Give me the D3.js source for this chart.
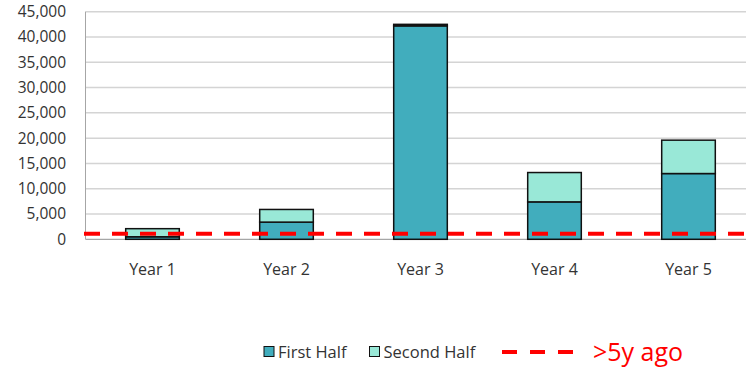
<!DOCTYPE html>
<html>
<head>
<meta charset="utf-8">
<script src="https://cdn.jsdelivr.net/npm/d3@7"></script>
<style>
  html, body { margin: 0; padding: 0; background: #fff; }
  svg { display: block; font-family: "Open Sans", sans-serif; }
</style>
</head>
<body>
<svg id="chart" width="746" height="368"></svg>
<script>
const categories = ["Year 1", "Year 2", "Year 3", "Year 4", "Year 5"];
const firstHalf = [500, 3400, 42200, 7400, 13000];
const secondHalf = [1600, 2500, 300, 5800, 6600];
const thresholdValue = 1100;
const yTicks = [0, 5000, 10000, 15000, 20000, 25000, 30000, 35000, 40000, 45000];
const seriesNames = ["First Half", "Second Half"];
const thresholdLabel = ">5y ago";
const colors = ["#41adbd", "#99e8d7"];

const svg = d3.select("#chart");
const plotLeft = 85.5, plotRight = 755.5, plotTop = 11.7, plotBottom = 239.3;

const x = d3.scaleBand().domain(categories).range([plotLeft, plotRight]).paddingInner(0.6).paddingOuter(0.3);
const y = d3.scaleLinear().domain([0, 45000]).range([plotBottom, plotTop]);

// gridlines
svg.append("g").selectAll("line").data(yTicks.filter(d => d > 0)).join("line")
  .attr("x1", plotLeft).attr("x2", 746)
  .attr("y1", d => y(d)).attr("y2", d => y(d))
  .attr("stroke", "#d4d4d4").attr("stroke-width", 1.5);

// y labels
svg.append("g").selectAll("text").data(yTicks).join("text")
  .attr("x", 66).attr("y", d => y(d)).attr("dy", "0.35em")
  .attr("text-anchor", "end").attr("font-size", 15.5).attr("fill", "#333")
  .text(d => d3.format(",")(d));

// axes lines
svg.append("line").attr("x1", plotLeft).attr("x2", plotLeft).attr("y1", plotTop).attr("y2", plotBottom)
  .attr("stroke", "#a6a6a6").attr("stroke-width", 1);
svg.append("line").attr("x1", plotLeft).attr("x2", 746).attr("y1", plotBottom).attr("y2", plotBottom)
  .attr("stroke", "#a6a6a6").attr("stroke-width", 1.2);

// stacked bars
const rows = categories.map((c, i) => ({ cat: c, first: firstHalf[i], second: secondHalf[i] }));
const stack = d3.stack().keys(["first", "second"])(rows);
svg.append("g").selectAll("g").data(stack).join("g")
  .attr("fill", (d, i) => colors[i])
  .selectAll("rect").data(d => d).join("rect")
  .attr("x", d => x(d.data.cat))
  .attr("width", x.bandwidth())
  .attr("y", d => y(d[1]))
  .attr("height", d => y(d[0]) - y(d[1]))
  .attr("stroke", "#111").attr("stroke-width", 1.5);

// threshold line
svg.append("line").attr("x1", 84).attr("x2", 746)
  .attr("y1", y(thresholdValue)).attr("y2", y(thresholdValue))
  .attr("stroke", "#ff0000").attr("stroke-width", 4).attr("stroke-dasharray", "16,12");

// x labels
svg.append("g").selectAll("text").data(categories).join("text")
  .attr("x", d => x(d) + x.bandwidth() / 2).attr("y", 275)
  .attr("text-anchor", "middle").attr("font-size", 16).attr("fill", "#333")
  .text(d => d);

// legend
const leg = svg.append("g");
const legX = [264, 369.5];
seriesNames.forEach((name, i) => {
  leg.append("rect").attr("x", legX[i]).attr("y", 346.5).attr("width", 10).attr("height", 10)
    .attr("fill", colors[i]).attr("stroke", "#111").attr("stroke-width", 1);
  leg.append("text").attr("x", legX[i] + 14).attr("y", 357.5).attr("font-size", 16.5)
    .attr("fill", "#333").text(name);
});
leg.append("line").attr("x1", 502).attr("x2", 575).attr("y1", 352).attr("y2", 352)
  .attr("stroke", "#ff0000").attr("stroke-width", 4).attr("stroke-dasharray", "15,13");
leg.append("text").attr("x", 593).attr("y", 361).attr("font-size", 25)
  .attr("fill", "#ff0000").text(thresholdLabel);
</script>
</body>
</html>
